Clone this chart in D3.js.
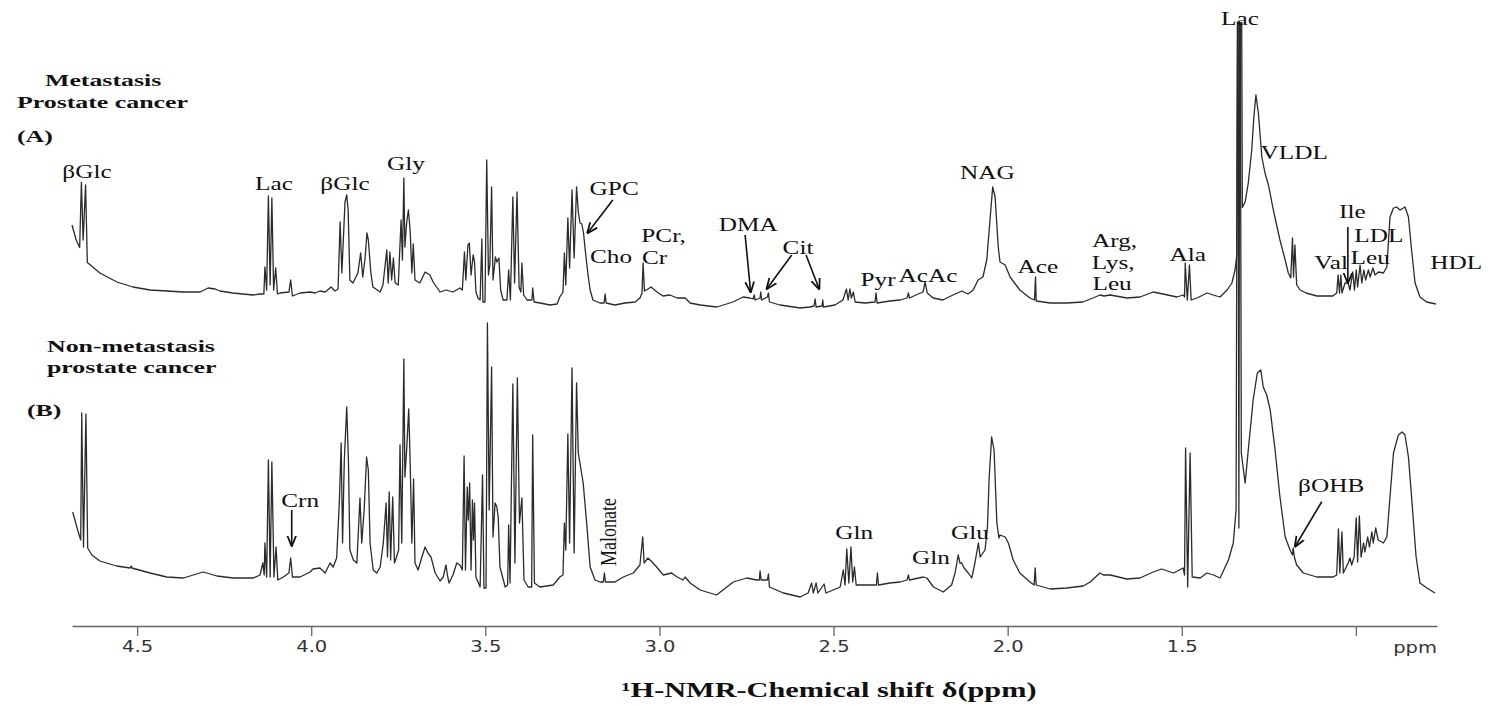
<!DOCTYPE html>
<html lang="en">
<head>
<meta charset="UTF-8">
<title>1H-NMR spectra of serum, metastasis vs non-metastasis prostate cancer</title>
<script src="https://d3js.org/d3.v7.min.js"></script>
<style>
    body { margin: 0; background: #fff; }
    svg { display: block; }
    .lbl { font-family: "Liberation Serif", "Times New Roman", serif; font-size: 19px; fill: #111; }
    .ttl { font-family: "Liberation Serif", "Times New Roman", serif; font-size: 17px; font-weight: bold; fill: #111; }
    .tick text { font-family: "DejaVu Sans", sans-serif; font-size: 16px; fill: #333; }
    .spec { fill: none; stroke: #2b2b2b; stroke-width: 1.3; stroke-linejoin: round; }
    .arrow { stroke: #111; stroke-width: 1.6; }
</style>
</head>
<body>
<div id="chart"></div>
<script>
// spectrum (A), metastasis: [ppm, relative intensity]
const specMetastasis = [
 [4.687,34],[4.675,28],[4.665,25],[4.660,51],[4.655,28],[4.648,50],[4.643,19],
 [4.607,14.8],[4.558,11.2],[4.512,9.2],[4.463,8],[4.414,7.6],[4.368,7.2],[4.319,7.2],[4.296,8.8],[4.276,8.4],[4.262,7.6],[4.225,6.8],[4.167,6],[4.147,6.4],
 [4.136,6.4],[4.133,17.2],[4.128,8],[4.123,45.6],[4.118,10],[4.113,44.8],[4.108,8],[4.102,16.8],[4.097,6.4],[4.090,6.8],[4.064,7.2],[4.059,12],[4.054,5.6],
 [4.032,6.8],[4.003,7.2],[3.989,6.8],[3.975,7.6],[3.960,7.2],[3.943,9.2],[3.932,7.6],[3.923,8.4],
 [3.917,35.2],[3.912,14.8],[3.903,43.2],[3.898,46],[3.894,40],[3.889,12],[3.880,10.8],[3.866,14.8],[3.858,22.8],[3.852,13.2],[3.845,21.2],[3.840,30.8],
 [3.836,28],[3.829,15.2],[3.823,9.2],[3.802,7.2],[3.794,10],[3.783,24],[3.779,10.8],[3.774,23.2],[3.769,12],[3.764,20.8],[3.759,10.8],[3.750,10],
 [3.742,36],[3.738,20],[3.734,52.8],[3.731,25.2],[3.726,34.8],[3.721,40],[3.716,32],[3.711,14.8],[3.707,26.4],[3.702,12],[3.688,10.8],[3.673,15.2],
 [3.659,14],[3.650,11.2],[3.630,7.2],[3.613,8],[3.593,7.2],[3.573,8.8],[3.566,8],[3.560,23.2],[3.556,12],[3.550,26],[3.546,26.8],[3.541,14],[3.535,22],
 [3.531,19.2],[3.527,7.2],[3.521,4.8],[3.515,4],[3.510,28.4],[3.507,3.2],[3.501,3.2],[3.496,60],[3.491,14],[3.487,18],[3.482,49.2],[3.478,12],
 [3.471,21.2],[3.467,19.2],[3.461,20.8],[3.456,8],[3.449,4],[3.438,4],[3.433,16],[3.428,4],[3.421,45.2],[3.416,10.8],[3.409,47.2],[3.403,9.2],
 [3.398,7.2],[3.395,18.8],[3.390,6],[3.380,4],[3.366,4],[3.364,8.8],[3.360,3.2],[3.343,2.8],[3.314,2],[3.294,2.4],[3.286,5.2],[3.277,7.2],
 [3.273,22.8],[3.269,10],[3.263,36.8],[3.258,16.8],[3.251,48],[3.245,20.8],[3.238,49.2],[3.233,39.2],[3.228,34.8],[3.223,34.4],[3.218,30.8],
 [3.214,25.2],[3.209,18.8],[3.205,14],[3.199,8],[3.191,4],[3.171,2.8],[3.159,2.8],[3.156,6.4],[3.153,2.8],[3.128,2],[3.099,2.8],[3.070,3.2],
 [3.056,4.8],[3.050,6.8],[3.047,18.8],[3.043,7.6],[3.033,8.4],[3.024,9.2],[3.007,7.2],[2.990,5.6],[2.970,6],[2.949,4.8],[2.926,4.8],[2.912,2.8],
 [2.883,2],[2.835,1.2],[2.789,3.2],[2.760,5.2],[2.740,4.8],[2.731,4.4],[2.728,6],[2.725,4],[2.711,4.8],[2.709,7.2],[2.707,4],[2.690,5.2],
 [2.687,6.8],[2.684,3.2],[2.654,2],[2.596,0.8],[2.568,1.2],[2.556,1.6],[2.553,4.4],[2.550,1.2],[2.533,1.6],[2.531,4],[2.529,1.2],[2.496,2],
 [2.473,4],[2.463,8.4],[2.458,4],[2.453,8.4],[2.449,4.8],[2.443,7.2],[2.438,3.2],[2.410,2.8],[2.381,3.2],[2.378,6.8],[2.375,2.8],[2.338,3.6],
 [2.309,4],[2.289,4.8],[2.285,6.8],[2.282,4.8],[2.257,6.4],[2.243,7.2],[2.237,11.2],[2.231,6.8],[2.214,4.8],[2.186,4],[2.157,6],[2.131,7.6],
 [2.114,6.4],[2.099,8],[2.085,12],[2.071,13.2],[2.060,20],[2.050,37.2],[2.043,49.2],[2.036,45.2],[2.027,25.2],[2.022,19.2],[2.007,18],[1.993,13.2],
 [1.965,8],[1.936,4.8],[1.923,4],[1.920,13.2],[1.918,3.6],[1.878,2.8],[1.830,2.8],[1.784,3.2],[1.755,4.8],[1.735,6],[1.723,5.6],[1.706,6],
 [1.657,4.8],[1.620,5.2],[1.582,7.2],[1.554,6.4],[1.514,5.2],[1.496,6],[1.492,5.2],[1.490,18.8],[1.484,4],[1.478,18],[1.473,4],[1.456,4.8],
 [1.439,6],[1.427,6.8],[1.410,6],[1.390,5.2],[1.370,8],[1.356,10.8],[1.347,16],[1.342,22],[1.337,200],[1.334,50],[1.330,200],[1.326,41],
 [1.318,43.2],[1.309,50.8],[1.299,64],[1.293,77.2],[1.287,86],[1.280,78.8],[1.270,61.2],[1.261,54.8],[1.251,50],[1.237,40],[1.218,28],[1.203,20],
 [1.194,14.8],[1.187,12.8],[1.182,28.8],[1.179,13.2],[1.175,26],[1.170,10],[1.160,8],[1.143,6.8],[1.112,5.6],[1.066,5.6],[1.055,6.8],[1.051,14],
 [1.047,6.8],[1.043,14],[1.040,6.8],[1.031,10.8],[1.022,10.8],[1.017,8],[1.009,15.2],[1.004,8],[0.999,16],[0.995,9.2],[0.988,18],[0.983,10.8],
 [0.977,16],[0.972,12],[0.964,16],[0.959,13.2],[0.951,16.8],[0.945,14],[0.935,15.2],[0.921,14.8],[0.911,17.2],[0.902,37.2],[0.892,40.8],
 [0.883,41.2],[0.873,40],[0.859,41.2],[0.849,37.2],[0.840,24],[0.830,10.8],[0.816,5.2],[0.797,3.2],[0.770,2.4]
];

// spectrum (B), non-metastasis
const specNonMetastasis = [
 [4.685,35.2],[4.669,27.2],[4.662,24],[4.659,74.8],[4.654,21.2],[4.647,74.4],[4.642,20.8],[4.630,18],[4.607,15.6],[4.559,13.6],[4.520,12.8],
 [4.517,13.6],[4.515,12.8],[4.463,10.8],[4.415,9.2],[4.367,8.8],[4.310,11.2],[4.271,9.6],[4.224,8.8],[4.166,8.8],[4.147,10],[4.139,14.8],[4.135,10],
 [4.133,22.8],[4.128,9.2],[4.123,56],[4.118,9.2],[4.113,55.2],[4.107,9.2],[4.101,21.2],[4.096,8],[4.080,9.2],[4.064,10.8],[4.059,16.8],[4.054,9.2],
 [4.032,9.2],[4.003,11.2],[3.995,12.4],[3.975,12.8],[3.960,10.8],[3.946,14.8],[3.937,13.2],[3.927,16.8],[3.919,40],[3.914,62.8],[3.910,22.8],
 [3.905,56],[3.898,77.2],[3.893,54.8],[3.889,20],[3.879,16],[3.869,14.8],[3.860,40.8],[3.855,22.8],[3.848,36],[3.841,57.2],[3.836,52],[3.831,22.8],
 [3.822,12],[3.812,10.8],[3.802,13.2],[3.793,22.8],[3.785,38.8],[3.781,17.2],[3.776,43.2],[3.772,16],[3.766,41.2],[3.761,14.8],[3.755,17.2],
 [3.749,20],[3.745,62],[3.740,22.8],[3.734,96.4],[3.731,49.2],[3.726,60],[3.720,76.4],[3.716,56],[3.711,22.8],[3.706,48.4],[3.702,14.8],[3.693,12],
 [3.683,16.8],[3.673,21.2],[3.665,18.8],[3.656,17.2],[3.644,10.8],[3.630,7.6],[3.621,9.2],[3.613,14],[3.609,10],[3.604,6.8],[3.593,10],[3.582,14.8],
 [3.573,14],[3.566,12],[3.561,57.6],[3.557,12],[3.552,45.2],[3.549,32],[3.545,46.8],[3.541,12],[3.537,40],[3.534,24],[3.531,38.8],[3.527,9.2],
 [3.515,5.2],[3.508,50],[3.504,4.8],[3.498,4.8],[3.494,110.8],[3.489,36],[3.482,93.2],[3.478,25.2],[3.472,38.8],[3.467,37.2],[3.463,33.2],[3.458,13.2],
 [3.443,5.2],[3.436,6],[3.433,30],[3.429,6.8],[3.421,86.4],[3.415,14.8],[3.408,88.8],[3.402,30.8],[3.395,40.8],[3.389,8],[3.377,5.2],[3.367,5.2],
 [3.364,66],[3.359,6.8],[3.343,5.2],[3.305,6],[3.286,9.2],[3.277,10],[3.273,30.8],[3.269,20],[3.263,66.4],[3.258,22.8],[3.251,92.8],[3.245,18.8],
 [3.238,86.8],[3.233,58.8],[3.226,52.8],[3.219,46.8],[3.209,30.8],[3.199,13.2],[3.185,8],[3.171,7.2],[3.161,7.2],[3.158,10.8],[3.155,7.2],[3.128,7.2],
 [3.104,9.2],[3.075,10.8],[3.056,14],[3.048,25.2],[3.044,14.8],[3.033,16.8],[3.021,15.2],[3.008,13.2],[2.989,10],[2.965,10.8],[2.949,9.2],[2.932,8],
 [2.926,9.2],[2.912,6.8],[2.883,4],[2.836,2],[2.788,7.2],[2.749,8.8],[2.721,8],[2.713,8],[2.711,11.6],[2.708,8],[2.690,8],[2.687,10.4],[2.684,5.2],
 [2.644,2.8],[2.596,1.2],[2.573,2.8],[2.563,6.8],[2.558,2.8],[2.550,6.8],[2.545,2.8],[2.527,6.4],[2.522,2.8],[2.501,4],[2.481,5.2],[2.472,12],
 [2.467,6],[2.462,20.4],[2.456,6.8],[2.450,21.2],[2.445,7.2],[2.440,13.2],[2.435,6],[2.405,6],[2.377,6],[2.374,10.8],[2.371,6],[2.338,6.8],
 [2.309,7.2],[2.289,8],[2.285,10],[2.282,8],[2.242,9.2],[2.232,8.8],[2.213,5.2],[2.185,3.2],[2.161,6],[2.151,10.8],[2.142,18],[2.137,14.8],
 [2.132,14.8],[2.125,12.8],[2.113,10.8],[2.103,8.8],[2.094,14.8],[2.084,22.8],[2.079,17.2],[2.071,18.8],[2.065,20],[2.058,29.2],[2.053,49.2],
 [2.046,65.2],[2.039,60],[2.031,30.8],[2.025,24.8],[2.022,26],[2.007,25.2],[1.998,22.8],[1.984,16],[1.965,10.8],[1.936,7.2],[1.924,6],[1.921,12.8],
 [1.918,6],[1.878,4.4],[1.830,4.8],[1.783,5.6],[1.763,7.2],[1.735,10.8],[1.725,10],[1.706,10],[1.658,8.4],[1.620,8.8],[1.582,11.2],[1.558,12.4],
 [1.524,10.8],[1.496,12.8],[1.492,10],[1.489,60.8],[1.483,5.2],[1.476,58.8],[1.470,9.2],[1.447,8.8],[1.428,10.8],[1.409,10],[1.390,8.8],[1.366,16],
 [1.352,22.8],[1.344,36],[1.339,300],[1.336,28.8],[1.333,300],[1.329,58.8],[1.318,46.8],[1.309,60],[1.295,80],[1.283,90.8],[1.273,92],[1.266,85.2],
 [1.256,82],[1.246,76],[1.232,60],[1.218,41.2],[1.203,25.2],[1.189,20],[1.182,18],[1.180,20.8],[1.176,16.8],[1.170,14],[1.151,10.8],[1.112,9.2],
 [1.065,9.2],[1.055,10],[1.050,28.4],[1.046,10.8],[1.040,27.2],[1.036,10.8],[1.022,14.8],[1.017,16.8],[1.012,14],[1.005,17.2],[0.999,32.8],
 [0.995,15.2],[0.990,33.6],[0.985,17.2],[0.978,22.8],[0.974,19.2],[0.966,25.2],[0.961,21.2],[0.954,27.2],[0.950,22.8],[0.943,28.8],[0.936,24],
 [0.921,22.8],[0.911,25.2],[0.902,41.2],[0.892,58.8],[0.878,66],[0.867,67.2],[0.859,66],[0.849,57.2],[0.840,41.2],[0.827,17.2],[0.816,6.8],
 [0.796,4.8],[0.773,2.8]
];

// metabolite labels: text, ppm, intensity level
const labelsA = [
 {t: "βGlc", ppm: 4.644, v: 55.6}, {t: "Lac", ppm: 4.107, v: 50.8}, {t: "βGlc", ppm: 3.903, v: 50.8},
 {t: "Gly", ppm: 3.728, v: 58.5}, {t: "GPC", ppm: 3.130, v: 48.8}, {t: "Cho", ppm: 3.139, v: 21.6},
 {t: "PCr,", ppm: 2.988, v: 30}, {t: "Cr", ppm: 3.014, v: 21.2}, {t: "DMA", ppm: 2.745, v: 34.4},
 {t: "Cit", ppm: 2.602, v: 25.2}, {t: "Pyr", ppm: 2.372, v: 12.4}, {t: "AcAc", ppm: 2.229, v: 14},
 {t: "NAG", ppm: 2.058, v: 55.2}, {t: "Ace", ppm: 1.913, v: 17.6}, {t: "Arg,", ppm: 1.693, v: 28},
 {t: "Lys,", ppm: 1.697, v: 19.2}, {t: "Leu", ppm: 1.700, v: 10.8}, {t: "Ala", ppm: 1.483, v: 22.4},
 {t: "Lac", ppm: 1.333, v: 116.8}, {t: "VLDL", ppm: 1.177, v: 63.2}, {t: "Val", ppm: 1.071, v: 19.2},
 {t: "Ile", ppm: 1.010, v: 39.6}, {t: "LDL", ppm: 0.934, v: 29.8}, {t: "Leu", ppm: 0.959, v: 21},
 {t: "HDL", ppm: 0.712, v: 19.2}
];
const labelsB = [
 {t: "Crn", ppm: 4.032, v: 40}, {t: "Gln", ppm: 2.441, v: 27.2}, {t: "Gln", ppm: 2.220, v: 17.2},
 {t: "Glu", ppm: 2.108, v: 27.2}, {t: "βOHB", ppm: 1.071, v: 46}
];
const malonateLabel = {t: "Malonate", ppm: 3.148, v: 27.2};

// arrows: [ppm from, level from, ppm to, level to]
const arrowsA = [
 [3.134, 44, 3.207, 30.7], [2.754, 30, 2.738, 7.1], [2.620, 22, 2.692, 8.4],
 [2.579, 22, 2.541, 8.3], [1.023, 33.2, 1.023, 10.8]
];
const arrowsB = [
 [4.056, 36, 4.056, 21.6], [1.098, 39.3, 1.175, 21.3]
];

// axis ticks
const majorTicks = [4.5, 4.0, 3.5, 3.0, 2.5, 2.0, 1.5, 1.0];
const majorLabels = ["4.5", "4.0", "3.5", "3.0", "2.5", "2.0", "1.5", ""];
const minorTicks = [4.6, 4.4, 4.3, 4.2, 4.1, 3.9, 3.8, 3.7, 3.6, 3.4, 3.3, 3.2, 3.1, 2.9, 2.8, 2.7, 2.6,
                    2.4, 2.3, 2.2, 2.1, 1.9, 1.8, 1.7, 1.6, 1.4, 1.3, 1.2, 1.1, 0.9, 0.8];

const W = 1500, H = 706;
const svg = d3.select("#chart").append("svg").attr("width", W).attr("height", H);

// ppm runs right to left
const x = d3.scaleLinear().domain([4.687, 0.767]).range([72, 1437]);
const yA = d3.scaleLinear().domain([0, 100]).range([310, 60]);
const yB = d3.scaleLinear().domain([0, 100]).range([600, 350]);

svg.append("defs").append("clipPath").attr("id", "plotclip")
   .append("rect").attr("x", 60).attr("y", 22).attr("width", 1440).attr("height", 600);

const marker = svg.select("defs").append("marker")
   .attr("id", "head").attr("viewBox", "0 0 10 10")
   .attr("refX", 9.5).attr("refY", 5)
   .attr("markerUnits", "userSpaceOnUse")
   .attr("markerWidth", 11).attr("markerHeight", 11)
   .attr("orient", "auto");
marker.append("path").attr("d", "M0,1 L10,5 L0,9")
   .attr("fill", "none").attr("stroke", "#111").attr("stroke-width", 1.6);

// spectra
const plot = svg.append("g").attr("clip-path", "url(#plotclip)");
plot.append("path").datum(specNonMetastasis).attr("class", "spec")
    .attr("d", d3.line().x(d => x(d[0])).y(d => yB(d[1])));
plot.append("path").datum(specMetastasis).attr("class", "spec")
    .attr("d", d3.line().x(d => x(d[0])).y(d => yA(d[1])));

// x axis
const axisG = svg.append("g").attr("transform", "translate(0,626)");
axisG.call(d3.axisBottom(x).tickValues(minorTicks).tickSize(6).tickSizeOuter(0).tickFormat(""));
axisG.call(d3.axisBottom(x).tickValues(majorTicks).tickSize(10).tickSizeOuter(0)
      .tickFormat((d, i) => majorLabels[i]));
axisG.selectAll(".domain").attr("stroke", "#666").attr("stroke-width", 1.5);
axisG.selectAll(".tick line").attr("stroke", "#666").attr("stroke-width", 1.3);
axisG.selectAll(".tick text").attr("y", 15).attr("transform", "scale(1.22,1)");

svg.append("text").attr("class", "tick-ppm")
   .attr("transform", "translate(1437,653) scale(1.22,1)")
   .attr("text-anchor", "end")
   .style("font-family", "DejaVu Sans, sans-serif").style("font-size", "16px").style("fill", "#333")
   .text("ppm");

svg.append("text")
   .attr("x", 829).attr("y", 697)
   .attr("text-anchor", "middle")
   .attr("textLength", 415).attr("lengthAdjust", "spacingAndGlyphs")
   .style("font-family", "Liberation Serif, Times New Roman, serif")
   .style("font-size", "21px").style("font-weight", "bold").style("fill", "#111")
   .text("¹H-NMR-Chemical shift δ(ppm)");

// metabolite labels
function addLabels(list, yScale) {
    svg.append("g").selectAll("text").data(list).enter().append("text")
       .attr("class", "lbl")
       .attr("text-anchor", "middle")
       .attr("dy", "0.35em")
       .attr("transform", d => `translate(${x(d.ppm)},${yScale(d.v)}) scale(1.33,1)`)
       .text(d => d.t);
}
addLabels(labelsA, yA);
addLabels(labelsB, yB);

svg.append("text").attr("class", "lbl")
   .style("font-size", "18px")
   .attr("text-anchor", "middle").attr("dy", "0.35em")
   .attr("transform", `translate(${x(malonateLabel.ppm)},${yB(malonateLabel.v)}) scale(1.33,1) rotate(-90)`)
   .text(malonateLabel.t);

function addArrows(list, yScale) {
    svg.append("g").selectAll("line").data(list).enter().append("line")
       .attr("class", "arrow")
       .attr("x1", d => x(d[0])).attr("y1", d => yScale(d[1]))
       .attr("x2", d => x(d[2])).attr("y2", d => yScale(d[3]))
       .attr("marker-end", "url(#head)");
}
addArrows(arrowsA, yA);
addArrows(arrowsB, yB);

// panel titles
const titles = [
    {t: "Metastasis", x: 45, y: 86},
    {t: "Prostate cancer", x: 17, y: 108},
    {t: "(A)", x: 17, y: 142},
    {t: "Non-metastasis", x: 47, y: 352},
    {t: "prostate cancer", x: 47, y: 373},
    {t: "(B)", x: 27, y: 416}
];
svg.append("g").selectAll("text").data(titles).enter().append("text")
   .attr("class", "ttl")
   .attr("transform", d => `translate(${d.x},${d.y}) scale(1.52,1)`)
   .text(d => d.t);
</script>
</body>
</html>
